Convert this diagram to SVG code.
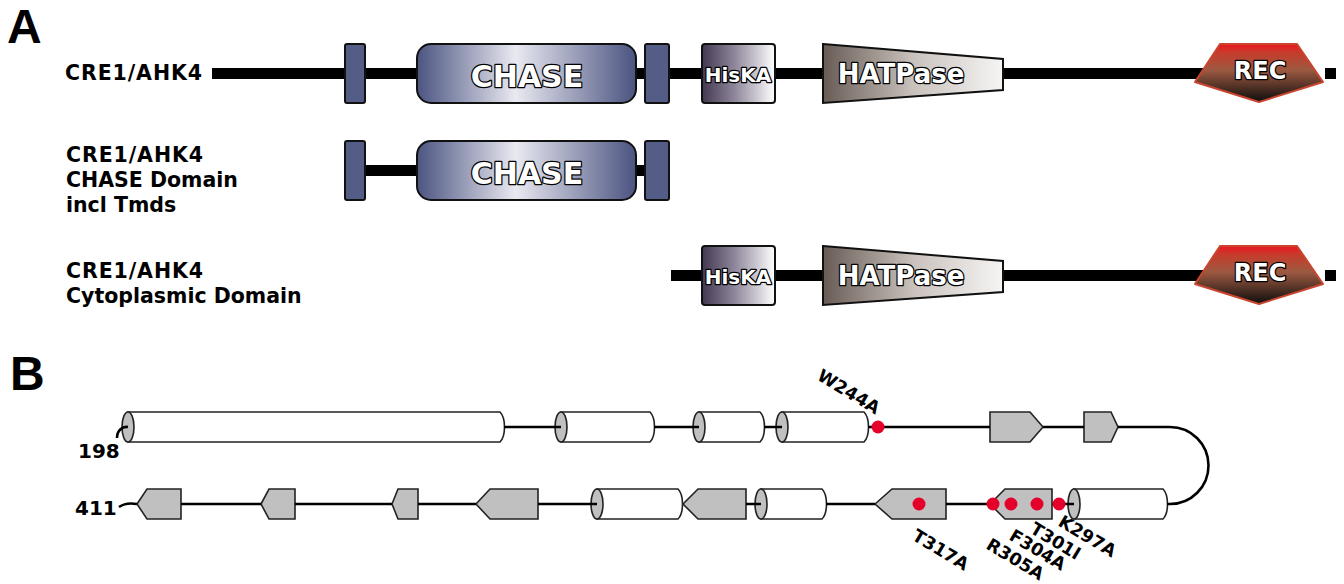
<svg xmlns="http://www.w3.org/2000/svg" width="1344" height="584" viewBox="0 0 1344 584">
<defs>
<linearGradient id="gChase" x1="0" y1="0" x2="1" y2="0">
<stop offset="0" stop-color="#4b5481"/><stop offset="0.45" stop-color="#e9e9f1"/><stop offset="1" stop-color="#4b5481"/>
</linearGradient>
<linearGradient id="gHis" x1="0" y1="0" x2="1" y2="0">
<stop offset="0" stop-color="#433850"/><stop offset="0.45" stop-color="#8f879b"/><stop offset="1" stop-color="#ffffff"/>
</linearGradient>
<linearGradient id="gHat" x1="0" y1="0" x2="1" y2="0">
<stop offset="0" stop-color="#685c55"/><stop offset="0.5" stop-color="#c9c1bc"/><stop offset="1" stop-color="#f6f5f4"/>
</linearGradient>
<linearGradient id="gRec" x1="0" y1="0" x2="0" y2="1">
<stop offset="0" stop-color="#ec151d"/><stop offset="0.15" stop-color="#c63c2b"/><stop offset="0.45" stop-color="#9c5941"/><stop offset="1" stop-color="#0d0d0d"/>
</linearGradient>
<style>
.lbl{font-family:"DejaVu Sans",Verdana,sans-serif;font-weight:bold;font-size:20.5px;fill:#000}
.panel{font-family:"Liberation Sans",Arial,sans-serif;font-weight:bold;font-size:48px;fill:#000}
.dom{font-family:"DejaVu Sans",Verdana,sans-serif;font-weight:bold;fill:#fff;stroke:#000;stroke-width:2.5;paint-order:stroke;stroke-linejoin:round;text-anchor:middle}
.tm{fill:#535d85;stroke:#111;stroke-width:2}
.box{stroke:#111;stroke-width:2}
.rec{fill:url(#gRec);stroke:#c8452f;stroke-width:2;stroke-linejoin:round}
.bb{fill:#000}
.cylb{fill:#fff;stroke:#222;stroke-width:1.6}
.cap{fill:#c0c0c0;stroke:#222;stroke-width:1.6}
.strand{fill:#c0c0c0;stroke:#222;stroke-width:1.6}
.ln{fill:none;stroke:#000;stroke-width:2.6}
.dot{fill:#e4002b}
.mut{font-family:"DejaVu Sans",Verdana,sans-serif;font-weight:bold;font-size:17.5px;fill:#000}
.num{font-family:"DejaVu Sans",Verdana,sans-serif;font-weight:bold;font-size:20px;fill:#000}
</style>
</defs>
<rect width="1344" height="584" fill="#fff"/>

<text class="panel" x="7" y="43">A</text>
<text class="panel" x="10" y="390">B</text>

<g id="labels-A">
<text class="lbl" x="65" y="80" textLength="137" lengthAdjust="spacing">CRE1/AHK4</text>
<text class="lbl" x="66" y="162" textLength="137" lengthAdjust="spacing">CRE1/AHK4</text>
<text class="lbl" x="66" y="187">CHASE Domain</text>
<text class="lbl" x="66" y="212">incl Tmds</text>
<text class="lbl" x="66" y="278" textLength="137" lengthAdjust="spacing">CRE1/AHK4</text>
<text class="lbl" x="66" y="303">Cytoplasmic Domain</text>
</g>

<g id="connectors-A">
<rect class="bb" x="212" y="68" width="992" height="11"/>
<rect class="bb" x="1325" y="68" width="11" height="11"/>
<rect class="bb" x="364" y="165" width="54" height="11"/>
<rect class="bb" x="635" y="165" width="11" height="11"/>
<rect class="bb" x="671" y="270" width="533" height="11"/>
<rect class="bb" x="1325" y="270" width="11" height="11"/>
</g>

<g id="full-tm1"><rect class="tm" x="345" y="44" width="20" height="59" rx="2"/></g>
<g id="full-chase"><rect class="box" fill="url(#gChase)" x="417" y="44" width="219" height="59" rx="14"/><text class="dom" x="527" y="87" font-size="30">CHASE</text></g>
<g id="full-tm2"><rect class="tm" x="645" y="44" width="24" height="59" rx="2"/></g>
<g id="full-hiska"><rect class="box" fill="url(#gHis)" x="702" y="44" width="73" height="59" rx="3"/><text class="dom" x="738" y="82" font-size="20" stroke-width="2.2">HisKA</text></g>
<g id="full-hatpase"><polygon class="box" fill="url(#gHat)" points="823,44 1003,59 1003,90 823,103"/><text class="dom" x="901" y="83" font-size="26">HATPase</text></g>
<g id="full-rec"><polygon class="rec" points="1220,44 1297,44 1323,82 1259,102 1195,82"/><text class="dom" x="1260" y="79" font-size="24">REC</text></g>

<g id="chase-tm1"><rect class="tm" x="345" y="141" width="20" height="59" rx="2"/></g>
<g id="chase-chase"><rect class="box" fill="url(#gChase)" x="417" y="141" width="219" height="59" rx="14"/><text class="dom" x="527" y="184" font-size="30">CHASE</text></g>
<g id="chase-tm2"><rect class="tm" x="645" y="141" width="24" height="59" rx="2"/></g>

<g id="cyto-hiska"><rect class="box" fill="url(#gHis)" x="702" y="246" width="73" height="59" rx="3"/><text class="dom" x="738" y="284" font-size="20" stroke-width="2.2">HisKA</text></g>
<g id="cyto-hatpase"><polygon class="box" fill="url(#gHat)" points="823,246 1003,261 1003,292 823,305"/><text class="dom" x="901" y="285" font-size="26">HATPase</text></g>
<g id="cyto-rec"><polygon class="rec" points="1220,246 1297,246 1323,284 1259,304 1195,284"/><text class="dom" x="1260" y="281" font-size="24">REC</text></g>

<g id="helix1"><path class="cylb" d="M128,412 H500 C506,418 506,436 500,442 H128 Z"/><ellipse class="cap" cx="128" cy="427" rx="6" ry="15"/></g>
<g id="helix2"><path class="cylb" d="M561,412 H650 C656,418 656,436 650,442 H561 Z"/><ellipse class="cap" cx="561" cy="427" rx="6" ry="15"/></g>
<g id="helix3"><path class="cylb" d="M699,412 H760 C766,418 766,436 760,442 H699 Z"/><ellipse class="cap" cx="699" cy="427" rx="6" ry="15"/></g>
<g id="helix4"><path class="cylb" d="M782,412 H864 C870,418 870,436 864,442 H782 Z"/><ellipse class="cap" cx="782" cy="427" rx="6" ry="15"/></g>
<g id="strand1"><polygon class="strand" points="990,412 1030,412 1043,427 1030,442 990,442"/></g>
<g id="strand2"><polygon class="strand" points="1084,412 1111,412 1118,427 1111,442 1084,442"/></g>

<g id="helix5"><path class="cylb" d="M1074,489 H1163 C1169,495 1169,513 1163,519 H1074 Z"/><ellipse class="cap" cx="1074" cy="504" rx="6" ry="15"/></g>
<g id="strand3"><polygon class="strand" points="990,504 1005,489 1052,489 1052,519 1005,519"/></g>
<g id="strand4"><polygon class="strand" points="875,504 892,489 946,489 946,519 892,519"/></g>
<g id="helix6"><path class="cylb" d="M761,489 H822 C828,495 828,513 822,519 H761 Z"/><ellipse class="cap" cx="761" cy="504" rx="6" ry="15"/></g>
<g id="strand5"><polygon class="strand" points="683,504 698,489 746,489 746,519 698,519"/></g>
<g id="helix7"><path class="cylb" d="M597,489 H678 C684,495 684,513 678,519 H597 Z"/><ellipse class="cap" cx="597" cy="504" rx="6" ry="15"/></g>
<g id="strand6"><polygon class="strand" points="476,504 490,489 538,489 538,519 490,519"/></g>
<g id="strand7"><polygon class="strand" points="392,504 398,489 418,489 418,519 398,519"/></g>
<g id="strand8"><polygon class="strand" points="261,504 269,489 295,489 295,519 269,519"/></g>
<g id="strand9"><polygon class="strand" points="137,504 147,489 181,489 181,519 147,519"/></g>

<g id="connectors-B">
<path class="ln" d="M128,427 C122,426 117,431 117,438"/>
<path class="ln" d="M504,427 H561 M654,427 H699 M764,427 H782 M868,427 H990 M1043,427 H1084 M1118,427 H1170 A38.5,38.5 0 0 1 1170,504 H1167"/>
<path class="ln" d="M119,507 Q126,502 137,504"/>
<path class="ln" d="M181,504 H261 M295,504 H392 M418,504 H476 M538,504 H597 M746,504 H761 M826,504 H875 M946,504 H990 M1052,504 H1074"/>
</g>

<g id="mutations">
<circle class="dot" cx="878" cy="427" r="6.5"/>
<circle class="dot" cx="919" cy="504" r="6.5"/>
<circle class="dot" cx="993" cy="504" r="6.5"/>
<circle class="dot" cx="1011" cy="504" r="6.5"/>
<circle class="dot" cx="1037" cy="504" r="6.5"/>
<circle class="dot" cx="1059" cy="504" r="6.5"/>
<text class="mut" transform="translate(816,379) rotate(31)">W244A</text>
<text class="mut" transform="translate(911,539) rotate(31)">T317A</text>
<text class="mut" transform="translate(985,548) rotate(31)">R305A</text>
<text class="mut" transform="translate(1008,539) rotate(31)">F304A</text>
<text class="mut" transform="translate(1029,532) rotate(31)">T301I</text>
<text class="mut" transform="translate(1057,525) rotate(31)">K297A</text>
</g>

<text class="num" x="78" y="458">198</text>
<text class="num" x="75" y="515">411</text>
</svg>
